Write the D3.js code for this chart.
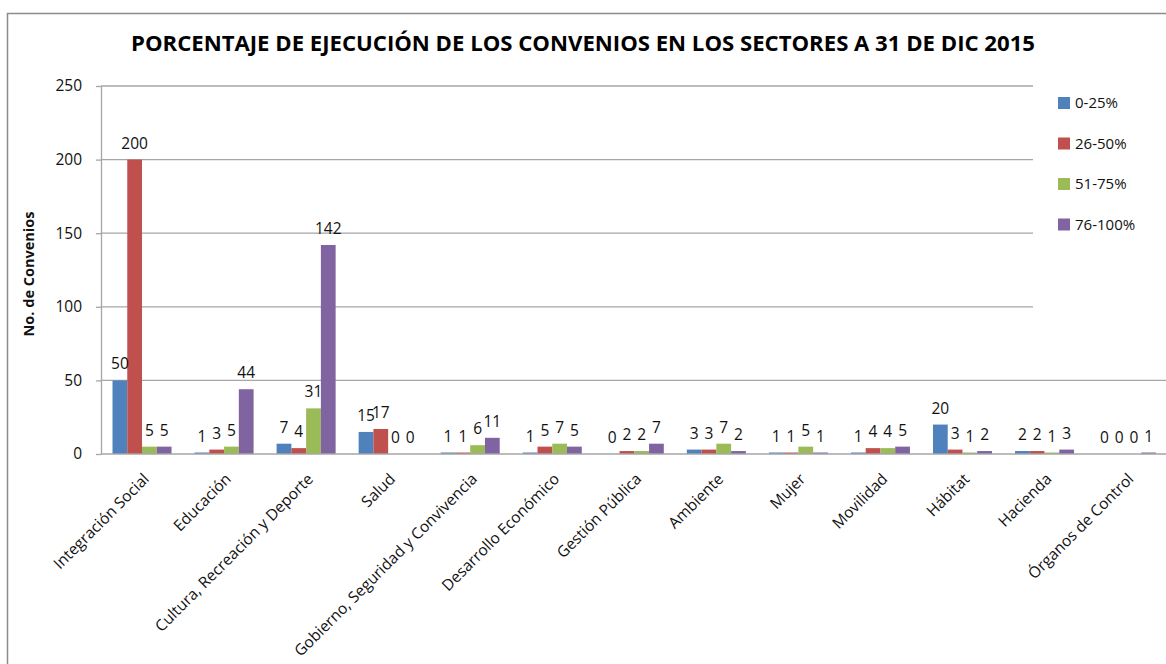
<!DOCTYPE html>
<html>
<head>
<meta charset="utf-8">
<script src="https://cdn.jsdelivr.net/npm/d3@7"></script>
<style>
  html, body { margin: 0; padding: 0; background: #fff; }
  svg { display: block; }
</style>
</head>
<body>
<svg id="chart" width="1166" height="664"></svg>
<script>
const categories = ["Integración Social", "Educación", "Cultura, Recreación y Deporte", "Salud",
  "Gobierno, Seguridad y Convivencia", "Desarrollo Económico", "Gestión Pública", "Ambiente",
  "Mujer", "Movilidad", "Hábitat", "Hacienda", "Órganos de Control"];
const seriesNames = ["0-25%", "26-50%", "51-75%", "76-100%"];
const s0_25   = [50, 1, 7, 15, 1, 1, 0, 3, 1, 1, 20, 2, 0];
const s26_50  = [200, 3, 4, 17, 1, 5, 2, 3, 1, 4, 3, 2, 0];
const s51_75  = [5, 5, 31, 0, 6, 7, 2, 7, 5, 4, 1, 1, 0];
const s76_100 = [5, 44, 142, 0, 11, 5, 7, 2, 1, 5, 2, 3, 1];
const yTicks = [0, 50, 100, 150, 200, 250];
const colors = ["#4F81BD", "#C0504D", "#9BBB59", "#8064A2"];
const titleText = "PORCENTAJE DE EJECUCIÓN DE LOS CONVENIOS EN LOS SECTORES A 31 DE DIC 2015";
const yTitle = "No. de Convenios";

const seriesValues = [s0_25, s26_50, s51_75, s76_100];
const rows = categories.map((c, i) => ({ cat: c, vals: seriesNames.map((s, j) => ({ s, j, v: seriesValues[j][i] })) }));

const svg = d3.select("#chart");
const pLeft = 101, pRight = 1167.6, pTop = 86, pBottom = 454;

// outer border
svg.append("rect").attr("x", 7.5).attr("y", 13.5).attr("width", 1200).attr("height", 700)
  .attr("fill", "#fff").attr("stroke", "#8c8c8c").attr("stroke-width", 1.5);

const x0 = d3.scaleBand().domain(categories).range([pLeft, pRight]).padding(0);
const x1 = d3.scaleBand().domain(seriesNames).range([0, x0.bandwidth()]).paddingInner(0).paddingOuter(0.78);
const y = d3.scaleLinear().domain([0, 250]).range([pBottom, pTop]);

// gridlines
svg.append("g").selectAll("line").data(yTicks.filter(t => t > 0)).join("line")
  .attr("x1", pLeft).attr("x2", pRight).attr("y1", d => y(d)).attr("y2", d => y(d))
  .attr("stroke", "#a6a6a6").attr("stroke-width", 1.3);

// y axis
const yAxis = svg.append("g").attr("transform", `translate(${pLeft},0)`)
  .call(d3.axisLeft(y).tickValues(yTicks).tickSize(5).tickSizeOuter(0).tickPadding(14));
yAxis.select(".domain").attr("stroke", "#a6a6a6").attr("stroke-width", 1.3);
yAxis.selectAll(".tick line").attr("stroke", "#a6a6a6").attr("stroke-width", 1.3);
yAxis.selectAll(".tick text").attr("font-family", "'Open Sans', sans-serif").attr("font-size", 15.5)
  .attr("fill", "#111");

// bars
const groups = svg.append("g").selectAll("g").data(rows).join("g")
  .attr("transform", d => `translate(${x0(d.cat)},0)`);
groups.selectAll("rect").data(d => d.vals).join("rect")
  .attr("x", d => x1(d.s)).attr("width", x1.bandwidth())
  .attr("y", d => y(d.v)).attr("height", d => y(0) - y(d.v))
  .attr("fill", d => colors[d.j]);
groups.selectAll("text").data(d => d.vals).join("text")
  .attr("x", d => x1(d.s) + x1.bandwidth() / 2)
  .attr("y", d => y(d.v) - 11)
  .attr("text-anchor", "middle")
  .attr("font-family", "'Open Sans', sans-serif").attr("font-size", 15.5).attr("fill", "#111")
  .text(d => d.v);

// x axis baseline
svg.append("line").attr("x1", pLeft).attr("x2", pRight).attr("y1", y(0)).attr("y2", y(0))
  .attr("stroke", "#a6a6a6").attr("stroke-width", 1.6);

// x labels
const xAxis = svg.append("g").attr("transform", `translate(0,${y(0)})`)
  .call(d3.axisBottom(x0).tickSize(0).tickPadding(0));
xAxis.select(".domain").remove();
xAxis.selectAll(".tick text")
  .attr("font-family", "'Open Sans', sans-serif").attr("font-size", 15.5).attr("fill", "#111")
  .attr("text-anchor", "end")
  .attr("dy", 0)
  .attr("transform", "translate(8,26) rotate(-45)");

// legend (white box over plot)
const lg = svg.append("g");
lg.append("rect").attr("x", 1033).attr("y", 72).attr("width", 140).attr("height", 255).attr("fill", "#fff");
seriesNames.forEach((s, i) => {
  const yy = 103 + i * 40.5;
  lg.append("rect").attr("x", 1058).attr("y", yy - 6).attr("width", 12).attr("height", 12).attr("fill", colors[i]);
  lg.append("text").attr("x", 1075).attr("y", yy).attr("dy", "0.35em")
    .attr("font-family", "'Open Sans', sans-serif").attr("font-size", 15).attr("fill", "#111").text(s);
});

// title
svg.append("text").attr("x", 583).attr("y", 51).attr("text-anchor", "middle")
  .attr("font-family", "'Open Sans', sans-serif").attr("font-weight", "bold").attr("font-size", 22)
  .attr("textLength", 904).attr("lengthAdjust", "spacingAndGlyphs")
  .text(titleText);

// y title
svg.append("text").attr("transform", "translate(34,274) rotate(-90)").attr("text-anchor", "middle")
  .attr("font-family", "'Open Sans', sans-serif").attr("font-weight", "bold").attr("font-size", 14.5)
  .attr("fill", "#111").text(yTitle);
</script>
</body>
</html>
